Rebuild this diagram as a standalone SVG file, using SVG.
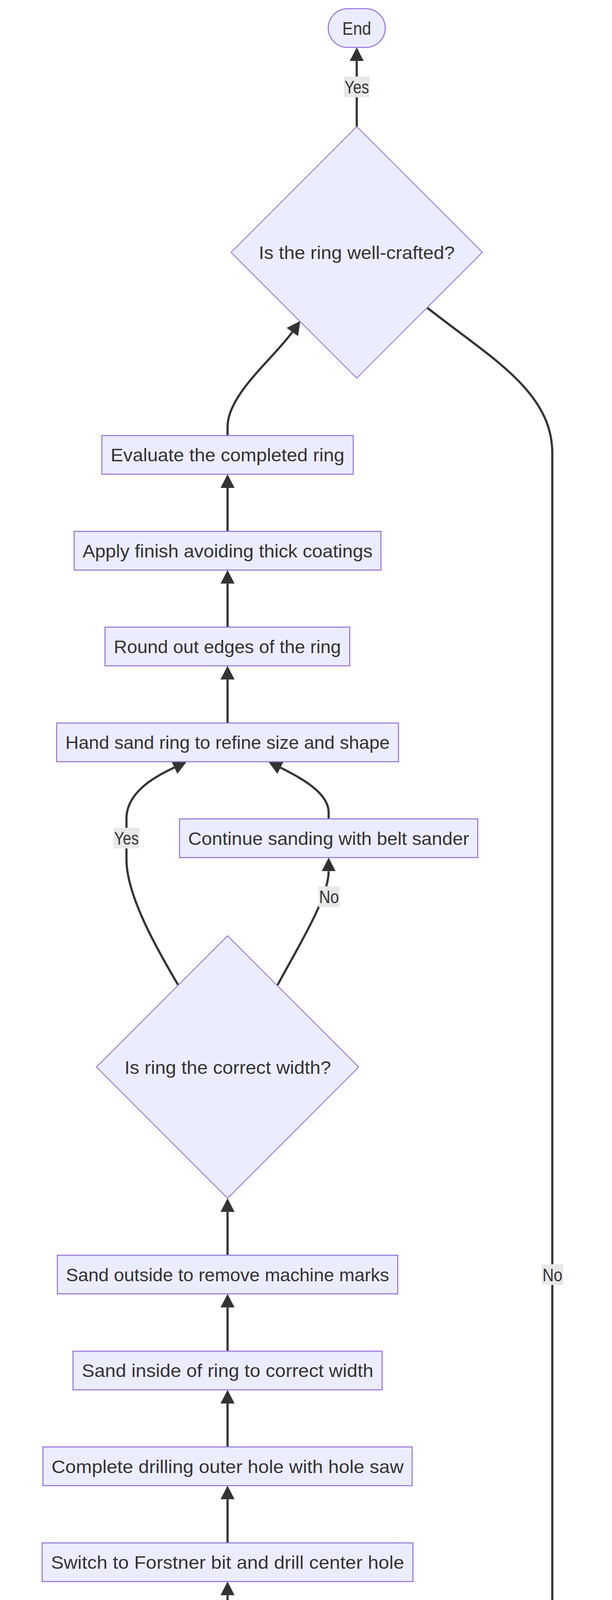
<svg xmlns="http://www.w3.org/2000/svg" width="1568" height="5354" viewBox="0 0 1568 5354">
<style>
.bg{fill:#ffffff}
.nd{fill:#ECECFF;stroke:#9370DB;stroke-width:2.6}
.dm{fill:#ECECFF;stroke:#9370DB;stroke-width:2.2}
.ed{fill:none;stroke:#333333;stroke-width:5.5}
.lb{fill:#e8e8e8}
.t{fill:#333333;font-family:"Liberation Sans",Arial,sans-serif;font-size:47px;text-anchor:middle}
</style>
<defs>
<marker id="arr" viewBox="0 0 10 10" refX="0" refY="5" markerUnits="userSpaceOnUse" markerWidth="35" markerHeight="36" orient="auto" preserveAspectRatio="none">
<path d="M0,0 L10,5 L0,10 z" fill="#333333"/>
</marker>
</defs>
<rect class="bg" x="0" y="0" width="1568" height="5354"/>
<g id="edges">
<path class="ed" marker-end="url(#arr)" d="M914.5,5176.5 L914.5,5065.2"/>
<path class="ed" marker-end="url(#arr)" d="M780,4931 C695,4899 583,4865 583,4820"/>
<path class="ed" marker-end="url(#arr)" d="M583,4686 L583,4574.5"/>
<path class="ed" marker-end="url(#arr)" d="M583,4440.5 L583,4329.2"/>
<path class="ed" marker-end="url(#arr)" d="M583,4195.2 L583,4083.8"/>
<path class="ed" marker-end="url(#arr)" d="M583,3949.8 L583,3838.2"/>
<path class="ed" marker-end="url(#arr)" d="M583,3704.2 L583,3593"/>
<path class="ed" marker-end="url(#arr)" d="M583,3459 L583,3347.3"/>
<path class="ed" marker-end="url(#arr)" d="M583,3213.3 L583,3102.6"/>
<path class="ed" marker-end="url(#arr)" d="M456,2521 C415.8,2451.8 324,2300 324,2200 L324,2096 C324,2030 392.2,1990.2 446.6,1964.8"/>
<path class="ed" marker-end="url(#arr)" d="M711,2522 C760,2430 842,2300 842,2230.4"/>
<path class="ed" marker-end="url(#arr)" d="M842,2096.4 L842,2080 C842,2030 772.4,1991.9 718.8,1965.1"/>
<path class="ed" marker-end="url(#arr)" d="M583,1851 L583,1739.5"/>
<path class="ed" marker-end="url(#arr)" d="M583,1605.5 L583,1494.3"/>
<path class="ed" marker-end="url(#arr)" d="M583,1360.3 L583,1249"/>
<path class="ed" marker-end="url(#arr)" d="M583,1115 L583,1093 C583,1010 700,918 749,850"/>
<path class="ed" marker-end="url(#arr)" d="M1095,788 C1251,912 1415,1000 1415,1160 L1415,4757 C1415,4870 1290,4875 1150,4919"/>
<path class="ed" marker-end="url(#arr)" d="M914,324 L914,156.3"/>
</g>
<g id="edge-labels">
<g id="label-yes-end"><rect class="lb" x="881" y="196" width="66" height="53"/><text class="t" x="914" y="239.3" textLength="63" lengthAdjust="spacingAndGlyphs">Yes</text></g>
<g id="label-yes-width"><rect class="lb" x="291" y="2119" width="66" height="53"/><text class="t" x="324" y="2162.3" textLength="63" lengthAdjust="spacingAndGlyphs">Yes</text></g>
<g id="label-no-width"><rect class="lb" x="816" y="2269" width="54" height="53"/><text class="t" x="843" y="2312.3" textLength="51" lengthAdjust="spacingAndGlyphs">No</text></g>
<g id="label-no-crafted"><rect class="lb" x="1388" y="3236.5" width="55" height="53"/><text class="t" x="1415.5" y="3279.8" textLength="51" lengthAdjust="spacingAndGlyphs">No</text></g>
</g>
<g id="nodes">
<g id="end"><rect class="nd" x="841" y="22.3" width="146" height="99" rx="49.5" ry="49.5"/><text class="t" x="914" y="88.6" textLength="74" lengthAdjust="spacingAndGlyphs">End</text></g>
<g id="q-crafted"><polygon class="dm" points="914,324 1236,646 914,968 592,646"/><text class="t" x="914" y="663" textLength="502" lengthAdjust="spacingAndGlyphs">Is the ring well-crafted?</text></g>
<g id="evaluate"><rect class="nd" x="261" y="1115" width="644" height="99"/><text class="t" x="583" y="1181.3" textLength="599" lengthAdjust="spacingAndGlyphs">Evaluate the completed ring</text></g>
<g id="apply"><rect class="nd" x="190" y="1360.3" width="786" height="99"/><text class="t" x="583" y="1426.6" textLength="743" lengthAdjust="spacingAndGlyphs">Apply finish avoiding thick coatings</text></g>
<g id="round"><rect class="nd" x="269" y="1605.5" width="627" height="99"/><text class="t" x="582.5" y="1671.8" textLength="582" lengthAdjust="spacingAndGlyphs">Round out edges of the ring</text></g>
<g id="handsand"><rect class="nd" x="145" y="1851" width="876" height="99"/><text class="t" x="583" y="1917.3" textLength="831" lengthAdjust="spacingAndGlyphs">Hand sand ring to refine size and shape</text></g>
<g id="continue"><rect class="nd" x="460" y="2096.4" width="764" height="99"/><text class="t" x="842" y="2162.7" textLength="720" lengthAdjust="spacingAndGlyphs">Continue sanding with belt sander</text></g>
<g id="q-width"><polygon class="dm" points="583,2395.6 919,2731.6 583,3067.6 247,2731.6"/><text class="t" x="583.5" y="2748.5" textLength="529" lengthAdjust="spacingAndGlyphs">Is ring the correct width?</text></g>
<g id="sandoutside"><rect class="nd" x="147" y="3213.3" width="872" height="99"/><text class="t" x="583" y="3279.6" textLength="828" lengthAdjust="spacingAndGlyphs">Sand outside to remove machine marks</text></g>
<g id="sandinside"><rect class="nd" x="187" y="3459" width="792" height="99"/><text class="t" x="583" y="3525.3" textLength="747" lengthAdjust="spacingAndGlyphs">Sand inside of ring to correct width</text></g>
<g id="complete"><rect class="nd" x="110" y="3704.2" width="946" height="99"/><text class="t" x="583" y="3770.5" textLength="902" lengthAdjust="spacingAndGlyphs">Complete drilling outer hole with hole saw</text></g>
<g id="switch"><rect class="nd" x="108" y="3949.8" width="950" height="99"/><text class="t" x="583" y="4016.1" textLength="905" lengthAdjust="spacingAndGlyphs">Switch to Forstner bit and drill center hole</text></g>
<g id="secure"><rect class="nd" x="23" y="4195.2" width="1120" height="99"/><text class="t" x="583" y="4261.5" textLength="1076" lengthAdjust="spacingAndGlyphs">Secure wood piece and drill partway with hole saw</text></g>
<g id="estimate"><rect class="nd" x="85" y="4440.5" width="996" height="99"/><text class="t" x="583" y="4506.8" textLength="951" lengthAdjust="spacingAndGlyphs">Estimate outer diameter based on finger size</text></g>
<g id="gather"><rect class="nd" x="211" y="4686" width="744" height="99"/><text class="t" x="583" y="4752.3" textLength="699" lengthAdjust="spacingAndGlyphs">Gather necessary tools and finish</text></g>
<g id="select"><rect class="nd" x="300" y="4931.2" width="1229" height="99"/><text class="t" x="914.5" y="4997.5" textLength="1185" lengthAdjust="spacingAndGlyphs">Select a piece of wood with an interesting grain pattern</text></g>
<g id="start"><rect class="nd" x="829" y="5176.5" width="171" height="99" rx="49.5" ry="49.5"/><text class="t" x="914.5" y="5242.8" textLength="103" lengthAdjust="spacingAndGlyphs">Start</text></g>
</g>
</svg>
